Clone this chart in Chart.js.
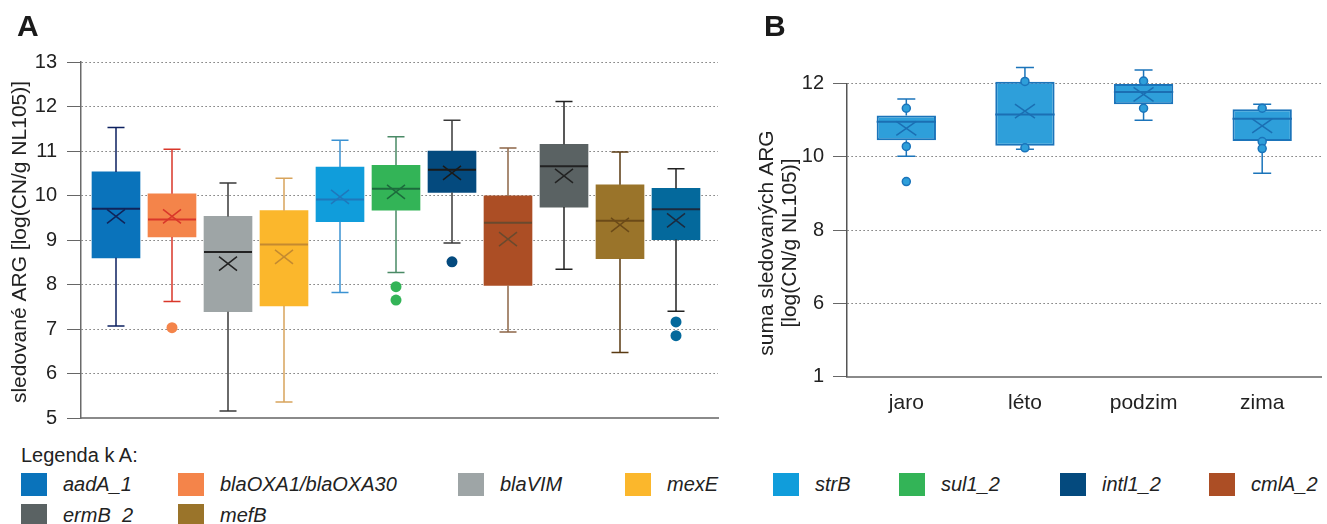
<!DOCTYPE html>
<html>
<head>
<meta charset="utf-8">
<script src="https://cdn.jsdelivr.net/npm/chart.js@4.4.1/dist/chart.umd.min.js"></script>
<style>
    body { margin: 0; background: #fff; font-family: 'Liberation Sans', Arial, sans-serif; color: #222; }
    #wrap { position: relative; width: 1327px; height: 524px; overflow: hidden; }
    canvas { position: absolute; top: 0; }
    #chartA { left: 0; }
    #chartB { left: 740px; }
    .panel { position: absolute; top: 11px; font-size: 30px; font-weight: bold; line-height: 1; color: #1a1a1a; }
    #legend { position: absolute; left: 21px; top: 443px; }
    .legend-title { font-size: 20px; line-height: 24px; }
    .legend-grid { display: grid; grid-template-columns: 157px 280px 167px 148px 126px 161px 149px 120px; row-gap: 8px; margin-top: 6px; }
    .item { display: flex; align-items: center; height: 23px; }
    .swatch { width: 26px; height: 23px; margin-right: 16px; flex: none; }
    .item span { font-style: italic; font-size: 20px; white-space: nowrap; }
</style>
</head>
<body>
<div id="wrap">
    <canvas id="chartA" width="740" height="440"></canvas>
    <canvas id="chartB" width="587" height="430"></canvas>
    <div class="panel" style="left:17px;">A</div>
    <div class="panel" style="left:764px;">B</div>
    <div id="legend">
        <div class="legend-title">Legenda k A:</div>
        <div class="legend-grid" id="legend-grid"></div>
    </div>
</div>
<script>
const FONT = "'Liberation Sans', Arial, sans-serif";
Chart.defaults.font.family = FONT;
Chart.defaults.color = '#222';

// --- Panel A: sledované geny ---
const genesA = ['aadA_1', 'blaOXA1/blaOXA30', 'blaVIM', 'mexE', 'strB', 'sul1_2', 'intl1_2', 'cmlA_2', 'ermB_2', 'mefB', ''];
const whiskerLowA  = [7.07, 7.62, 5.16, 5.36, 7.82, 8.27, 8.93, 6.93, 8.34, 6.47, 7.40];
const q1A          = [8.60, 9.07, 7.39, 7.52, 9.41, 9.67, 10.07, 7.98, 9.74, 8.58, 9.01];
const medianA      = [9.70, 9.46, 8.73, 8.90, 9.91, 10.15, 10.58, 9.39, 10.66, 9.43, 9.69];
const q3A          = [10.53, 10.04, 9.53, 9.66, 10.64, 10.68, 11.00, 9.99, 11.15, 10.24, 10.16];
const whiskerHighA = [11.53, 11.04, 10.28, 10.39, 11.24, 11.32, 11.69, 11.07, 12.11, 10.98, 10.60];
const meanA        = [9.53, 9.53, 8.47, 8.62, 9.97, 10.08, 10.51, 9.02, 10.44, 9.34, 9.44];
const outliersA    = [[], [7.03], [], [], [], [7.95, 7.65], [8.51], [], [], [], [7.16, 6.85]];

const boxColorsA     = ['#0A73BB', '#F4844A', '#9EA5A6', '#FBB72C', '#109DDB', '#33B457', '#044A7E', '#AC4E25', '#5A6263', '#9A742A', '#04699C'];
const whiskerColorsA = ['#0D2160', '#D9372A', '#3A3A3A', '#D8A45C', '#3B92D2', '#4A8A66', '#3A3A3A', '#8D6647', '#222222', '#5A3A12', '#222222'];
const medianColorsA  = ['#10245A', '#D9372A', '#222222', '#C48A30', '#1F78BC', '#1C6B3C', '#1A1A1A', '#6A4A2E', '#222222', '#6B4A18', '#1B2B3F'];

// --- Panel B: suma podle ročního období ---
const seasons       = ['jaro', 'léto', 'podzim', 'zima'];
const whiskerLowB   = [10.01, 10.20, 10.99, 9.55];
const q1B           = [10.45, 10.30, 11.43, 10.43];
const medianB       = [10.95, 11.15, 11.76, 11.03];
const q3B           = [11.12, 12.04, 11.98, 11.29];
const whiskerHighB  = [11.57, 12.43, 12.36, 11.43];
const meanB         = [10.77, 11.24, 11.70, 10.84];
const pointsB       = [[11.32, 10.28, 9.32], [12.27, 12.05, 10.24], [12.06, 11.32], [11.32, 10.41, 10.22]];
const yTickValuesB  = [4, 6, 8, 10, 12];
const yTickLabelsB  = ['1', '6', '8', '10', '12'];

// whiskers, median and mean cross drawn right after the box dataset
const boxPlotPlugin = {
    id: 'boxPlot',
    afterDatasetDraw(chart, args) {
        const ds = chart.data.datasets[args.index];
        if (!ds.box) return;
        const b = ds.box;
        const ctx = chart.ctx;
        const y = chart.scales.y;
        args.meta.data.forEach((bar, i) => {
            const x = bar.x;
            const half = bar.width / 2;
            const lo = y.getPixelForValue(b.low[i]);
            const hi = y.getPixelForValue(b.high[i]);
            const q1 = y.getPixelForValue(b.q1[i]);
            const q3 = y.getPixelForValue(b.q3[i]);
            const med = y.getPixelForValue(b.median[i]);
            const mean = y.getPixelForValue(b.mean[i]);
            const col = (c) => Array.isArray(c) ? c[i] : c;
            ctx.save();
            ctx.lineWidth = b.whiskerWidth;
            ctx.strokeStyle = col(b.whiskerColor);
            ctx.beginPath();
            ctx.moveTo(x, Math.min(q3, q1)); ctx.lineTo(x, hi);
            ctx.moveTo(x - b.cap / 2, hi); ctx.lineTo(x + b.cap / 2, hi);
            ctx.moveTo(x, Math.max(q3, q1)); ctx.lineTo(x, lo);
            ctx.moveTo(x - b.cap / 2, lo); ctx.lineTo(x + b.cap / 2, lo);
            ctx.stroke();
            ctx.strokeStyle = col(b.medianColor);
            ctx.lineWidth = b.medianWidth;
            ctx.beginPath();
            ctx.moveTo(x - half, med); ctx.lineTo(x + half, med);
            ctx.stroke();
            ctx.lineWidth = b.markWidth;
            ctx.beginPath();
            ctx.moveTo(x - b.markX, mean - b.markY); ctx.lineTo(x + b.markX, mean + b.markY);
            ctx.moveTo(x - b.markX, mean + b.markY); ctx.lineTo(x + b.markX, mean - b.markY);
            ctx.stroke();
            ctx.restore();
        });
    }
};

const sideTitlePlugin = {
    id: 'sideTitle',
    afterDraw(chart, args, opts) {
        if (!opts.lines) return;
        const ctx = chart.ctx;
        ctx.save();
        ctx.translate(opts.x, opts.y);
        ctx.rotate(-Math.PI / 2);
        ctx.font = `${opts.size}px ${FONT}`;
        ctx.fillStyle = '#222';
        ctx.textAlign = 'center';
        ctx.textBaseline = 'middle';
        opts.lines.forEach((line, i) => ctx.fillText(line, 0, i * opts.lineHeight));
        ctx.restore();
    }
};

const dottedGrid = { color: '#555', lineWidth: 1, tickColor: '#666', tickLength: 14 };

// Chart A
const outlierPointsA = [];
outliersA.forEach((list, i) => list.forEach(v => outlierPointsA.push({ x: i, y: v })));

new Chart(document.getElementById('chartA'), {
    type: 'bar',
    data: {
        datasets: [{
            type: 'scatter',
            order: 0,
            data: outlierPointsA,
            pointRadius: 5.5,
            pointBorderWidth: 0,
            pointBackgroundColor: (c) => boxColorsA[c.raw ? c.raw.x : 0]
        }, {
            type: 'bar',
            order: 1,
            data: q1A.map((v, i) => ({ x: i, y: [v, q3A[i]] })),
            backgroundColor: boxColorsA,
            borderWidth: 0,
            barThickness: 48,
            box: {
                low: whiskerLowA, high: whiskerHighA, q1: q1A, q3: q3A, median: medianA, mean: meanA,
                whiskerColor: whiskerColorsA, medianColor: medianColorsA,
                whiskerWidth: 1.5, medianWidth: 2, markWidth: 1.5, cap: 17, markX: 9, markY: 7
            }
        }]
    },
    options: {
        responsive: false,
        animation: false,
        layout: { padding: { top: 62, right: 22, left: 0, bottom: 0 } },
        plugins: {
            legend: { display: false },
            tooltip: { enabled: false },
            sideTitle: { lines: ['sledované ARG [log(CN/g NL105)]'], x: 20, y: 242, size: 21, lineHeight: 23 }
        },
        scales: {
            x: {
                type: 'linear', min: -0.625, max: 10.75,
                offset: false,
                bounds: 'data',
                ticks: { display: false },
                grid: { display: false, offset: false },
                border: { color: '#8a8a8a', width: 2 },
                afterFit: (s) => { s.height = 18; }
            },
            y: {
                min: 5, max: 13,
                ticks: { stepSize: 1, padding: 10, font: { size: 20 }, color: '#222' },
                grid: dottedGrid,
                border: { color: '#6a6a6a', width: 1.5, dash: [1.2, 2.8] },
                afterFit: (s) => { s.width = 81; }
            }
        }
    },
    plugins: [boxPlotPlugin, sideTitlePlugin]
});

// Chart B
const pointDataB = [];
pointsB.forEach((list, i) => list.forEach(v => pointDataB.push({ x: seasons[i], y: v })));

new Chart(document.getElementById('chartB'), {
    type: 'bar',
    data: {
        labels: seasons,
        datasets: [{
            type: 'scatter',
            order: 0,
            clip: false,
            data: pointDataB,
            pointRadius: 4,
            pointBackgroundColor: '#2E9FDA',
            pointBorderColor: '#1B74BA',
            pointBorderWidth: 1.5
        }, {
            type: 'bar',
            order: 1,
            clip: false,
            data: q1B.map((v, i) => [v, q3B[i]]),
            backgroundColor: '#2E9FDA',
            borderColor: '#1B74BA',
            borderWidth: 2,
            borderSkipped: false,
            barPercentage: 0.5,
            categoryPercentage: 1,
            box: {
                low: whiskerLowB, high: whiskerHighB, q1: q1B, q3: q3B, median: medianB, mean: meanB,
                whiskerColor: '#1B74BA', medianColor: '#1B6FB3',
                whiskerWidth: 1.5, medianWidth: 2, markWidth: 1.5, cap: 18, markX: 10, markY: 7
            }
        }]
    },
    options: {
        responsive: false,
        animation: false,
        layout: { padding: { top: 83.3, right: 1, left: 0, bottom: 0 } },
        plugins: {
            legend: { display: false },
            tooltip: { enabled: false },
            sideTitle: { lines: ['suma sledovaných ARG', '[log(CN/g NL105)]'], x: 27, y: 243, size: 21, lineHeight: 23 }
        },
        scales: {
            x: {
                type: 'category',
                grid: { display: false },
                ticks: { padding: 6, font: { size: 21 }, color: '#222' },
                border: { color: '#8a8a8a', width: 2 },
                afterFit: (s) => { s.height = 53.3; }
            },
            y: {
                min: 4, max: 12,
                afterBuildTicks: (s) => { s.ticks = yTickValuesB.map(v => ({ value: v })); },
                ticks: {
                    padding: 9, font: { size: 20 }, color: '#222',
                    callback: (v) => yTickLabelsB[yTickValuesB.indexOf(v)]
                },
                grid: dottedGrid,
                border: { color: '#555', width: 1.5, dash: [1.2, 2.8] },
                afterFit: (s) => { s.width = 107; }
            }
        }
    },
    plugins: [boxPlotPlugin, sideTitlePlugin]
});

// Legend for panel A
const grid = document.getElementById('legend-grid');
genesA.forEach((name, i) => {
    if (!name) return;
    const div = document.createElement('div');
    div.className = 'item';
    div.innerHTML = `<div class="swatch" style="background:${boxColorsA[i]}"></div><span>${name}</span>`;
    grid.appendChild(div);
});
</script>
</body>
</html>
